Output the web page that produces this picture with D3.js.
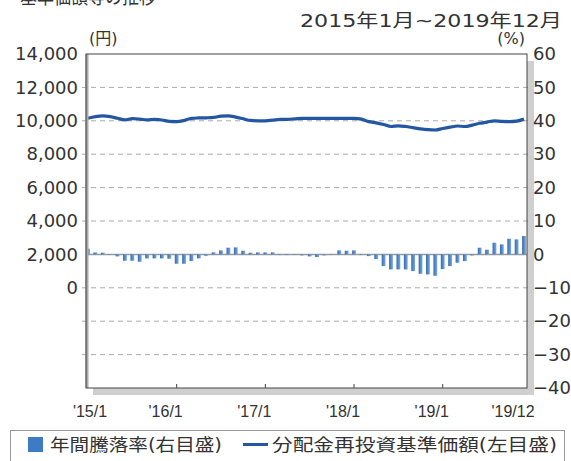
<!DOCTYPE html>
<html>
<head>
<meta charset="utf-8">
<script src="https://cdn.jsdelivr.net/npm/d3@7"></script>
<style>
  body { margin: 0; background: #fff; }
  svg { font-family: "DejaVu Sans", "Noto Sans CJK JP", sans-serif; }
</style>
</head>
<body>
<div id="chart"></div>
<script>
// 月次データ 2015/1 〜 2019/12
const navValues = [
  10150, 10250, 10290, 10250, 10150, 10060, 10130, 10100, 10050, 10080, 10050, 9960,
  9950, 10020, 10150, 10170, 10180, 10200, 10280, 10300, 10220, 10120, 10020, 10000,
  10000, 10040, 10080, 10090, 10120, 10150, 10150, 10150, 10150, 10150, 10150, 10150,
  10150, 10100, 9950, 9880, 9780, 9660, 9700, 9660, 9590, 9520, 9470, 9450,
  9540, 9620, 9690, 9660, 9740, 9850, 9920, 10000, 9960, 9950, 9980, 10100
];
const returnValues = [
  1.7, 0.6, 0.5, -0.1, -0.6, -1.9, -1.9, -2.2, -1.2, -1.2, -1.2, -1.3,
  -2.8, -2.8, -2.0, -1.2, -0.4, 0.6, 1.2, 2.0, 2.1, 1.1, 0.5, 0.6,
  0.6, 0.6, -0.2, -0.2, -0.1, -0.3, -0.6, -0.8, -0.3, 0.1, 1.2, 1.1,
  1.2, -0.2, -0.5, -1.4, -3.5, -4.5, -4.5, -4.5, -5.0, -5.8, -6.0, -6.4,
  -4.4, -3.5, -2.5, -2.0, -0.3, 2.0, 1.4, 3.5, 3.0, 4.7, 4.5, 5.5
];
const leftTicks = [0, 2000, 4000, 6000, 8000, 10000, 12000, 14000];
const rightTicks = [-40, -30, -20, -10, 0, 10, 20, 30, 40, 50, 60];
const xTickLabels = ["'15/1", "'16/1", "'17/1", "'18/1", "'19/1", "'19/12"];
const xTickIndex = [0, 12, 24, 36, 48, 59];

const W = 571, H = 461;
const frame = { left: 86, right: 527, top: 54, bottom: 388 };

const months = navValues.map((d, i) => i);

const svg = d3.select('#chart').append('svg')
  .attr('width', W).attr('height', H);

// スケール
const x = d3.scaleLinear().domain([0, 59]).range([88, 524]);
const yR = d3.scaleLinear().domain([-40, 60]).range([frame.bottom, frame.top]);
const yL = d3.scaleLinear().domain([-6000, 14000]).range([frame.bottom, frame.top]);

// 上端で切れたタイトル
svg.append('text')
  .attr('x', 20).attr('y', 4)
  .attr('font-size', 20).attr('fill', '#333')
  .attr('textLength', 136).attr('lengthAdjust', 'spacingAndGlyphs')
  .text('基準価額等の推移');

svg.append('text')
  .attr('x', 562).attr('y', 27)
  .attr('text-anchor', 'end')
  .attr('font-size', 18).attr('fill', '#333')
  .attr('textLength', 262).attr('lengthAdjust', 'spacingAndGlyphs')
  .text('2015年1月~2019年12月');

svg.append('text')
  .attr('x', 89).attr('y', 44)
  .attr('font-size', 16).attr('fill', '#333')
  .text('(円)');
svg.append('text')
  .attr('x', 525).attr('y', 44)
  .attr('text-anchor', 'end')
  .attr('font-size', 16).attr('fill', '#333')
  .text('(%)');

// 影
svg.append('rect')
  .attr('x', frame.left + 7).attr('y', frame.top + 7)
  .attr('width', frame.right - frame.left).attr('height', frame.bottom - frame.top)
  .attr('fill', '#cfcfcf');
svg.append('rect')
  .attr('x', frame.left).attr('y', frame.top)
  .attr('width', frame.right - frame.left).attr('height', frame.bottom - frame.top)
  .attr('fill', '#fff');

// グリッド
svg.append('g')
  .selectAll('line')
  .data(rightTicks.filter(t => t !== -40 && t !== 60 && t !== 0))
  .enter().append('line')
    .attr('x1', frame.left - 4).attr('x2', frame.right + 4)
    .attr('y1', d => yR(d)).attr('y2', d => yR(d))
    .attr('stroke', '#aaa')
    .attr('stroke-width', 1)
    .attr('stroke-dasharray', '5,4');

// 左軸
const leftAxis = svg.append('g')
  .attr('transform', `translate(${frame.left - 6},0)`)
  .call(d3.axisLeft(yL).tickValues(leftTicks).tickSize(0).tickPadding(2)
    .tickFormat(d3.format(',')));
leftAxis.select('.domain').remove();
leftAxis.selectAll('text').attr('font-size', 18).attr('fill', '#333')
  .attr('font-family', 'DejaVu Sans, sans-serif');

// 右軸
const rightAxis = svg.append('g')
  .attr('transform', `translate(${frame.right + 5},0)`)
  .call(d3.axisRight(yR).tickValues(rightTicks).tickSize(0).tickPadding(1));
rightAxis.select('.domain').remove();
rightAxis.selectAll('text').attr('font-size', 18).attr('fill', '#333')
  .attr('font-family', 'DejaVu Sans, sans-serif');

// ゼロ線
svg.append('line')
  .attr('x1', frame.left).attr('x2', frame.right)
  .attr('y1', yR(0)).attr('y2', yR(0))
  .attr('stroke', '#999').attr('stroke-width', 1.5);

// 棒（年間騰落率）
const grad = svg.append('defs').append('linearGradient')
  .attr('id', 'barGrad').attr('x1', 0).attr('x2', 1);
grad.append('stop').attr('offset', '0%').attr('stop-color', '#2f6cb6');
grad.append('stop').attr('offset', '100%').attr('stop-color', '#7ea9dc');

const barW = 3.8;
svg.append('g')
  .selectAll('rect')
  .data(months)
  .enter().append('rect')
    .attr('x', i => x(i) - barW / 2)
    .attr('y', i => yR(Math.max(0, returnValues[i])))
    .attr('width', barW)
    .attr('height', i => Math.abs(yR(returnValues[i]) - yR(0)))
    .attr('fill', 'url(#barGrad)');

// 線（分配金再投資基準価額）
const line = d3.line()
  .x(i => x(i))
  .y(i => yL(navValues[i]))
  .curve(d3.curveMonotoneX);
svg.append('path')
  .datum(months)
  .attr('d', line)
  .attr('fill', 'none')
  .attr('stroke', '#2357a3')
  .attr('stroke-width', 3.2);

// 左の縦線（灰色）
svg.append('line')
  .attr('x1', frame.left + 1).attr('x2', frame.left + 1)
  .attr('y1', frame.top).attr('y2', frame.bottom)
  .attr('stroke', '#aaa').attr('stroke-width', 3);

// 枠
svg.append('rect')
  .attr('x', frame.left).attr('y', frame.top)
  .attr('width', frame.right - frame.left).attr('height', frame.bottom - frame.top)
  .attr('fill', 'none').attr('stroke', '#444').attr('stroke-width', 1);

// x軸の目盛
svg.append('g')
  .selectAll('line')
  .data(xTickIndex.slice(1, 5))
  .enter().append('line')
    .attr('x1', i => x(i)).attr('x2', i => x(i))
    .attr('y1', frame.bottom).attr('y2', frame.bottom - 4)
    .attr('stroke', '#444');

svg.append('g')
  .selectAll('text')
  .data(xTickIndex)
  .enter().append('text')
    .attr('x', (i, k) => x(i) + (k === 0 ? 2 : k === 5 ? -11 : -11))
    .attr('y', 417)
    .attr('text-anchor', 'middle')
    .attr('font-size', 16).attr('fill', '#333')
    .attr('font-family', 'Liberation Sans, sans-serif')
    .text((i, k) => xTickLabels[k]);

// 凡例
svg.append('rect')
  .attr('x', 10.5).attr('y', 430.5)
  .attr('width', 554).attr('height', 40)
  .attr('fill', '#fff').attr('stroke', '#999');
svg.append('rect')
  .attr('x', 28).attr('y', 437)
  .attr('width', 15).attr('height', 15)
  .attr('fill', '#3d7cc4');
svg.append('text')
  .attr('x', 50).attr('y', 451)
  .attr('font-size', 17).attr('fill', '#333')
  .attr('textLength', 172).attr('lengthAdjust', 'spacingAndGlyphs')
  .text('年間騰落率(右目盛)');
svg.append('line')
  .attr('x1', 243).attr('x2', 268)
  .attr('y1', 444.5).attr('y2', 444.5)
  .attr('stroke', '#2357a3').attr('stroke-width', 3);
svg.append('text')
  .attr('x', 272).attr('y', 451)
  .attr('font-size', 17).attr('fill', '#333')
  .attr('textLength', 285).attr('lengthAdjust', 'spacingAndGlyphs')
  .text('分配金再投資基準価額(左目盛)');
</script>
</body>
</html>
